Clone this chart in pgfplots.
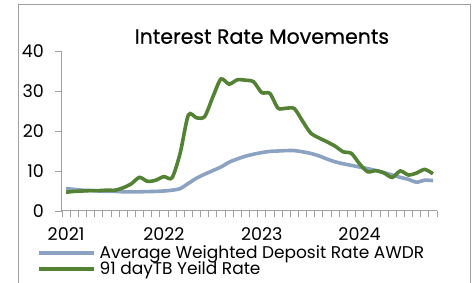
\documentclass[border=0pt]{standalone}
\usepackage{pgfplots}
\pgfplotsset{compat=1.18}
\usepackage{fontspec}
\setmainfont{Poppins}
\newfontfamily\titlefont[FakeBold=0.6]{Poppins}
\definecolor{awdr}{RGB}{140,162,195}
\definecolor{tb}{RGB}{84,130,53}
\definecolor{axgray}{RGB}{160,160,160}
\begin{document}
\begin{tikzpicture}[x=1pt,y=1pt]
\begin{axis}[
  at={(62pt,72pt)}, anchor=south west,
  scale only axis, width=375pt, height=160pt,
  xmin=0, xmax=46, ymin=0, ymax=40,
  axis x line*=bottom, axis y line*=left,
  axis line style={axgray, line width=1pt},
  every axis plot/.append style={line width=3.6pt, smooth, tension=0.45},
  tick align=outside, major tick length=6.5pt,
  tick style={axgray, line width=0.8pt},
  xtick={0,...,46},
  xticklabels={2021,,,,,,,,,,,,2022,,,,,,,,,,,,2023,,,,,,,,,,,,2024,,,,,,,,,,},
  xticklabel style={xshift=4.08pt, yshift=-10pt, inner sep=0pt},
  ytick={0,10,20,30,40},
  yticklabel style={xshift=-8pt},
  /pgf/number format/assume math mode=true,
  tick label style={font=\fontsize{17.5}{18}\selectfont, text=black},
  title={Interest Rate Movements},
  title style={at={(axis description cs:0.533,1.008)}, anchor=base, font=\titlefont\fontsize{20.5}{22}\selectfont},
  legend style={at={(axis description cs:-0.067,-0.215)}, anchor=north west, draw=none, fill=none, inner sep=0pt, row sep=2pt, font=\fontsize{17}{18}\selectfont, nodes={inner ysep=0pt, inner xsep=4pt}},
  legend cell align=left,
  legend image code/.code={\draw[#1] (0pt,0pt) -- (55pt,0pt);},
  clip=false,
]
\addplot[awdr] coordinates {
(0.5,5.6)(1.5,5.4)(2.5,5.2)(3.5,5.1)(4.5,5.0)(5.5,4.9)(6.5,4.9)(7.5,4.8)(8.5,4.8)(9.5,4.8)
(10.5,4.85)(11.5,4.9)(12.5,5.0)(13.5,5.2)(14.5,5.6)(15.5,6.9)(16.5,8.2)(17.5,9.2)(18.5,10.1)(19.5,11.0)
(20.5,12.2)(21.5,13.0)(22.5,13.7)(23.5,14.2)(24.5,14.6)(25.5,14.9)(26.5,15.0)(27.5,15.1)(28.5,15.1)(29.5,14.8)
(30.5,14.4)(31.5,13.8)(32.5,13.0)(33.5,12.3)(34.5,11.8)(35.5,11.4)(36.5,11.0)(37.5,10.6)(38.5,10.1)(39.5,9.6)
(40.5,9.0)(41.5,8.4)(42.5,7.9)(43.5,7.2)(44.5,7.7)(45.5,7.6)};
\addlegendentry{Average Weighted Deposit Rate AWDR}
\addplot[tb] coordinates {
(0.5,4.7)(1.5,4.9)(2.5,5.0)(3.5,5.1)(4.5,5.1)(5.5,5.2)(6.5,5.2)(7.5,5.8)(8.5,6.8)(9.5,8.4)
(10.5,7.4)(11.5,7.7)(12.5,8.6)(13.5,8.3)(14.5,14.5)(15.5,24.0)(16.5,23.3)(17.5,23.6)(18.5,28.5)(19.5,33.0)
(20.5,31.7)(21.5,32.8)(22.5,32.7)(23.5,32.3)(24.5,29.6)(25.5,29.4)(26.5,25.7)(27.5,25.7)(28.5,25.6)(29.5,22.5)
(30.5,19.5)(31.5,18.3)(32.5,17.3)(33.5,16.2)(34.5,14.8)(35.5,14.4)(36.5,11.8)(37.5,9.8)(38.5,10.1)(39.5,9.5)
(40.5,8.4)(41.5,10.0)(42.5,9.0)(43.5,9.5)(44.5,10.4)(45.5,9.3)};
\addlegendentry{91 dayTB Yeild Rate}
\end{axis}
\draw[axgray, line width=1pt] (18,-20) -- (18,278) -- (470,278) -- (470,-20);
\pgfresetboundingbox
\useasboundingbox (0,0) rectangle (475,283);
\end{tikzpicture}
\end{document}
